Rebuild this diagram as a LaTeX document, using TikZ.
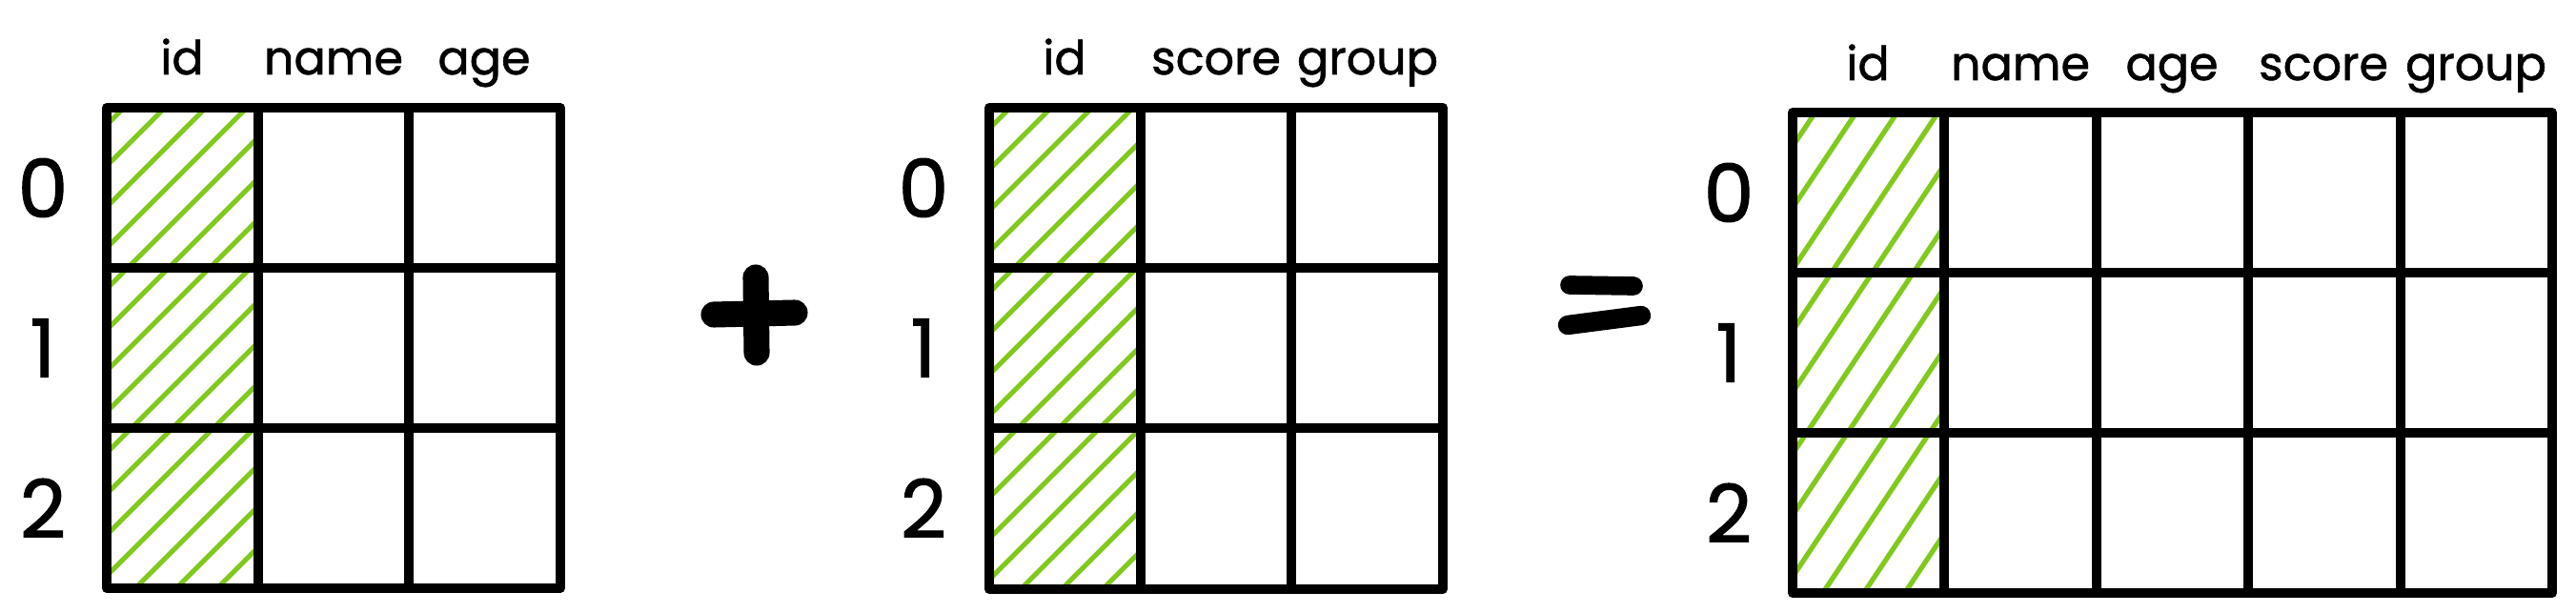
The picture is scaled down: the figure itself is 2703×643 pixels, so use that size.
\documentclass[tikz,border=0pt]{standalone}
\usepackage{fontspec}
\setmainfont{Poppins}
\newfontfamily\handfont[FakeBold=1.2]{Poppins}
\definecolor{hgreen}{HTML}{82C91E}
\newcommand{\hdrfont}{\handfont\fontsize{14pt}{17pt}\selectfont}
\newcommand{\rowfont}{\handfont\fontsize{24pt}{28pt}\selectfont}
\begin{document}
\begin{tikzpicture}[x=0.01cm,y=-0.01cm,
  gridline/.style={line width=2.9pt, line cap=round, line join=round},
  hatchline/.style={draw=hgreen, line width=1.5pt, line cap=round},
  hdr/.style={font=\hdrfont, anchor=base, inner sep=0pt},
  rowlab/.style={font=\rowfont, inner sep=0pt},
  opline/.style={line cap=round, line join=round}]
\useasboundingbox[fill=white] (0,0) rectangle (2703,643);

% ---------- hatching ----------
\begin{scope}
  \clip (112,113) rectangle (271,617);
  \foreach \c in {200,243,...,920} {\draw[hatchline] (\c-650,650) -- (\c-80,80);}
\end{scope}
\begin{scope}
  \clip (1038,113) rectangle (1197,618);
  \foreach \c in {1130,1173,...,1850} {\draw[hatchline] (\c-650,650) -- (\c-80,80);}
\end{scope}
\begin{scope}
  \clip (1881,118) rectangle (2040,622);
  \foreach \c in {1940,1983,...,2500} {\draw[hatchline] (\c-433,650) -- (\c-53,80);}
\end{scope}

% ---------- table 1 ----------
\draw[gridline] (112,113) rectangle (588,617);
\draw[gridline] (271,113) -- (271,617) (429,113) -- (429,617)
                (112,281) -- (588,281) (112,449) -- (588,449);
\node[hdr] (a-id) at (191,78) {id};
\node[hdr] (a-name) at (350,78) {name};
\node[hdr] (a-age) at (508,78) {age};
\node[rowlab] (a-r0) at (45,197) {0};
\node[rowlab] (a-r1) at (45,365) {1};
\node[rowlab] (a-r2) at (45,533) {2};

% ---------- plus ----------
\draw[opline, line width=7.7pt] (793,291) -- (794,370);
\draw[opline, line width=7.7pt] (749,330) -- (834,328);

% ---------- table 2 ----------
\draw[gridline] (1038,113) rectangle (1514,618);
\draw[gridline] (1197,113) -- (1197,618) (1355,113) -- (1355,618)
                (1038,281) -- (1514,281) (1038,449) -- (1514,449);
\node[hdr] (b-id) at (1117,78) {id};
\node[hdr] (b-score) at (1276,78) {score};
\node[hdr] (b-group) at (1435,78) {group};
\node[rowlab] (b-r0) at (969,197) {0};
\node[rowlab] (b-r1) at (969,365) {1};
\node[rowlab] (b-r2) at (969,533) {2};

% ---------- equals ----------
\draw[opline, line width=5.6pt] (1647,299) -- (1714,300);
\draw[opline, line width=5.8pt] (1645,341) -- (1722,331);

% ---------- table 3 ----------
\draw[gridline] (1881,118) rectangle (2678,622);
\draw[gridline] (2040,118) -- (2040,622) (2200,118) -- (2200,622)
                (2359,118) -- (2359,622) (2519,118) -- (2519,622)
                (1881,286) -- (2678,286) (1881,454) -- (2678,454);
\node[hdr] (c-id) at (1960,84) {id};
\node[hdr] (c-name) at (2120,84) {name};
\node[hdr] (c-age) at (2279,84) {age};
\node[hdr] (c-score) at (2438,84) {score};
\node[hdr] (c-group) at (2598,84) {group};
\node[rowlab] (c-r0) at (1814,202) {0};
\node[rowlab] (c-r1) at (1814,370) {1};
\node[rowlab] (c-r2) at (1814,538) {2};
\end{tikzpicture}
\end{document}
